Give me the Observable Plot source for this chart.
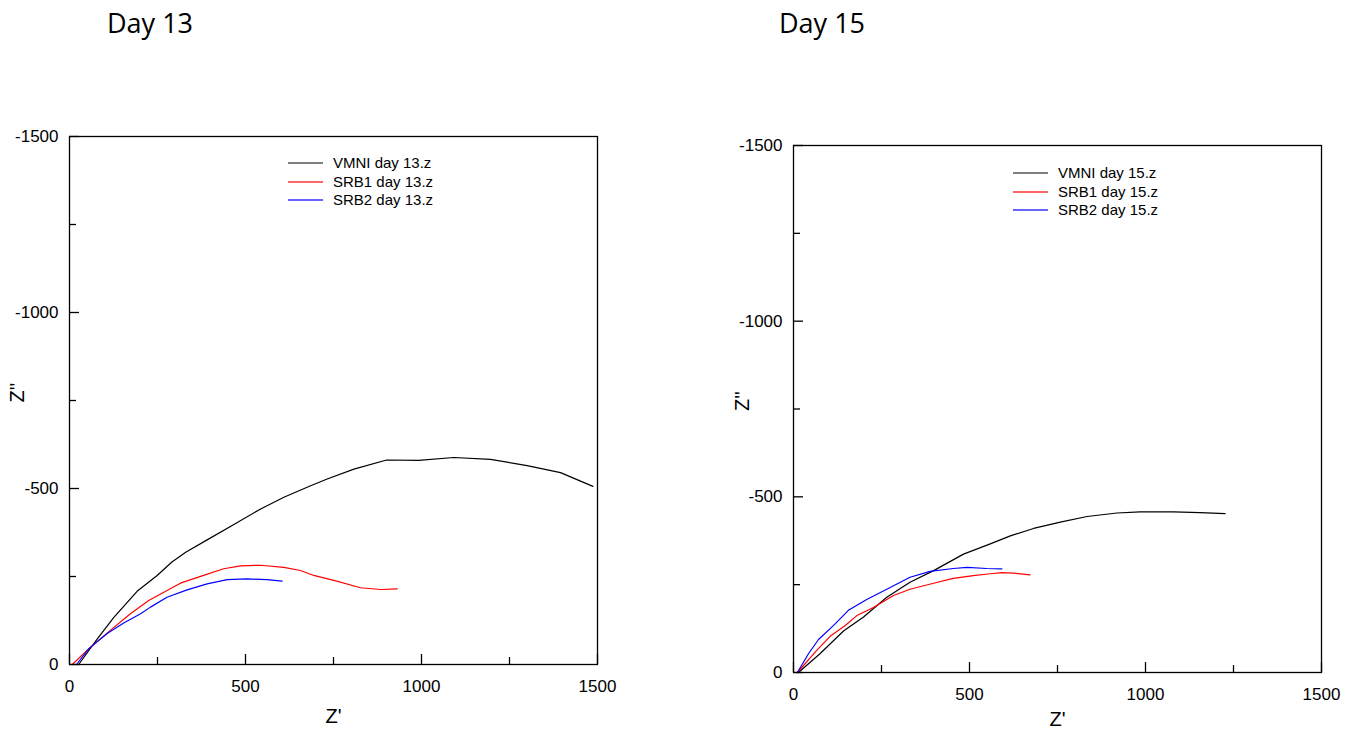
<!DOCTYPE html>
<html>
<head>
<meta charset="utf-8">
<script src="https://cdn.jsdelivr.net/npm/d3@7"></script>
<script src="https://cdn.jsdelivr.net/npm/@observablehq/plot@0.6"></script>
<style>
  body { margin: 0; background: #fff; }
  #wrap { position: relative; width: 1352px; height: 731px; overflow: hidden; background: #fff; }
  .title { position: absolute; font-family: "Open Sans", sans-serif; font-size: 27px; color: #000; line-height: 1; }
  .panel { position: absolute; top: 0; }
  .legend { position: absolute; font-family: "Liberation Sans", Arial, sans-serif; font-size: 15px; color: #000; }
  .legend .row { position: absolute; white-space: nowrap; height: 18px; }
  .legend svg { position: absolute; left: 0; top: 0; overflow: visible; }
  .legend span { position: absolute; left: 45px; top: 0; line-height: 18px; }
</style>
</head>
<body>
<div id="wrap">
  <div class="title" style="left:107px; top:9px;">Day 13</div>
  <div class="title" style="left:779px; top:9px;">Day 15</div>
</div>
<script>
// ---- Data ----
const xTicks = [0, 500, 1000, 1500];
const xMinorTicks = [250, 750, 1250];
const yTicks = [0, -500, -1000, -1500];
const yMinorTicks = [-250, -750, -1250];
const xLabel = "Z'";
const yLabel = "Z''";

const seriesNames13 = ["VMNI day 13.z", "SRB1 day 13.z", "SRB2 day 13.z"];
const seriesNames15 = ["VMNI day 15.z", "SRB1 day 15.z", "SRB2 day 15.z"];
const seriesColors = ["#000000", "#ff0000", "#0000ff"];

const day13_vmni_x = [26, 79, 126, 192, 249, 291, 330, 391, 467, 543, 609, 685, 732, 808, 901, 992, 1092, 1196, 1300, 1395, 1487];
const day13_vmni_y = [0, -73, -134, -208, -253, -291, -319, -354, -398, -442, -475, -508, -527, -555, -581, -580, -588, -583, -565, -545, -506];
const day13_srb1_x = [8, 55, 116, 173, 225, 268, 315, 381, 438, 486, 543, 609, 656, 694, 751, 827, 884, 931];
const day13_srb1_y = [0, -45, -97, -144, -182, -205, -231, -253, -272, -280, -282, -276, -267, -253, -239, -218, -213, -215];
const day13_srb2_x = [20, 55, 107, 154, 202, 230, 277, 334, 391, 448, 505, 561, 604];
const day13_srb2_y = [0, -45, -88, -118, -144, -163, -191, -212, -229, -241, -243, -241, -237];

const day15_vmni_x = [14, 76, 142, 199, 265, 331, 398, 483, 559, 616, 682, 758, 834, 919, 985, 1080, 1155, 1226];
const day15_vmni_y = [0, -54, -118, -158, -214, -257, -290, -337, -366, -389, -410, -428, -444, -454, -457, -457, -455, -452];
const day15_srb1_x = [11, 66, 104, 147, 180, 227, 284, 331, 398, 454, 511, 559, 592, 625, 672];
const day15_srb1_y = [0, -63, -103, -134, -162, -185, -219, -237, -254, -268, -276, -281, -284, -283, -278];
const day15_srb2_x = [11, 43, 71, 114, 156, 208, 265, 331, 388, 454, 493, 549, 592];
const day15_srb2_y = [0, -54, -94, -134, -177, -208, -237, -271, -288, -296, -299, -296, -295];

function toRows(name, xs, ys) { return xs.map((x, i) => ({series: name, x, y: ys[i]})); }

const rows13 = [
  ...toRows(seriesNames13[0], day13_vmni_x, day13_vmni_y),
  ...toRows(seriesNames13[1], day13_srb1_x, day13_srb1_y),
  ...toRows(seriesNames13[2], day13_srb2_x, day13_srb2_y)
];
const rows15 = [
  ...toRows(seriesNames15[0], day15_vmni_x, day15_vmni_y),
  ...toRows(seriesNames15[1], day15_srb1_x, day15_srb1_y),
  ...toRows(seriesNames15[2], day15_srb2_x, day15_srb2_y)
];

const FONT = "'Liberation Sans', Arial, sans-serif";

function panel(rows, names, m, xLabelDy, yLabelDx) {
  return Plot.plot({
    width: 676,
    height: 731,
    marginLeft: m.left, marginRight: m.right, marginTop: m.top, marginBottom: m.bottom,
    x: {domain: [0, 1500]},
    y: {domain: [0, -1500]},
    color: {domain: names, range: seriesColors},
    style: {fontFamily: FONT, fontSize: "17px", color: "#000", background: "transparent", overflow: "visible"},
    marks: [
      Plot.line(rows, {x: "x", y: "y", stroke: "series", z: "series", strokeWidth: 1.2}),
      Plot.frame({stroke: "#000", strokeWidth: 1.3}),
      Plot.axisX({ticks: xTicks, tickSize: -10, tickFormat: () => "", label: null, strokeWidth: 1.3}),
      Plot.axisX({ticks: xMinorTicks, tickSize: -7, tickFormat: () => "", label: null, strokeWidth: 1.3}),
      Plot.axisX({ticks: xTicks, tickSize: 0, tickPadding: 15, tickFormat: d => String(d), fontSize: 17, label: null}),
      Plot.axisY({ticks: yTicks, tickSize: -10, tickFormat: () => "", label: null, strokeWidth: 1.3}),
      Plot.axisY({ticks: yMinorTicks, tickSize: -7, tickFormat: () => "", label: null, strokeWidth: 1.3}),
      Plot.axisY({ticks: yTicks, tickSize: 0, tickPadding: 11, tickFormat: d => String(d), fontSize: 17, label: null}),
      Plot.text([xLabel], {text: d => d, frameAnchor: "bottom", dy: xLabelDy, fontSize: 20, lineAnchor: "middle"}),
      Plot.text([yLabel], {text: d => d, frameAnchor: "left", dx: yLabelDx, dy: 2, rotate: -90, fontSize: 20, lineAnchor: "middle"})
    ]
  });
}

function legend(names, left, top) {
  const div = document.createElement("div");
  div.className = "legend";
  div.style.left = left + "px";
  div.style.top = top + "px";
  names.forEach((n, i) => {
    const row = document.createElement("div");
    row.className = "row";
    row.style.top = (i * 18.5) + "px";
    const isBlack = i === 0;
    row.innerHTML = `<svg width="36" height="18"><line x1="0" x2="35" y1="9" y2="9" stroke="${seriesColors[i]}" stroke-width="${isBlack ? 1.2 : 2}" stroke-opacity="${isBlack ? 1 : 0.6}"/></svg><span>${n}</span>`;
    div.appendChild(row);
  });
  return div;
}

const wrap = document.getElementById("wrap");

const left = panel(rows13, seriesNames13, {left: 69, right: 79, top: 136, bottom: 67}, 52, -52);
left.classList.add("panel");
left.style.left = "0px";
wrap.appendChild(left);

const right = panel(rows15, seriesNames15, {left: 117, right: 31, top: 145, bottom: 59}, 47, -51);
right.classList.add("panel");
right.style.left = "676px";
wrap.appendChild(right);

wrap.appendChild(legend(seriesNames13, 288, 154));
wrap.appendChild(legend(seriesNames15, 1013, 164));
</script>
</body>
</html>
